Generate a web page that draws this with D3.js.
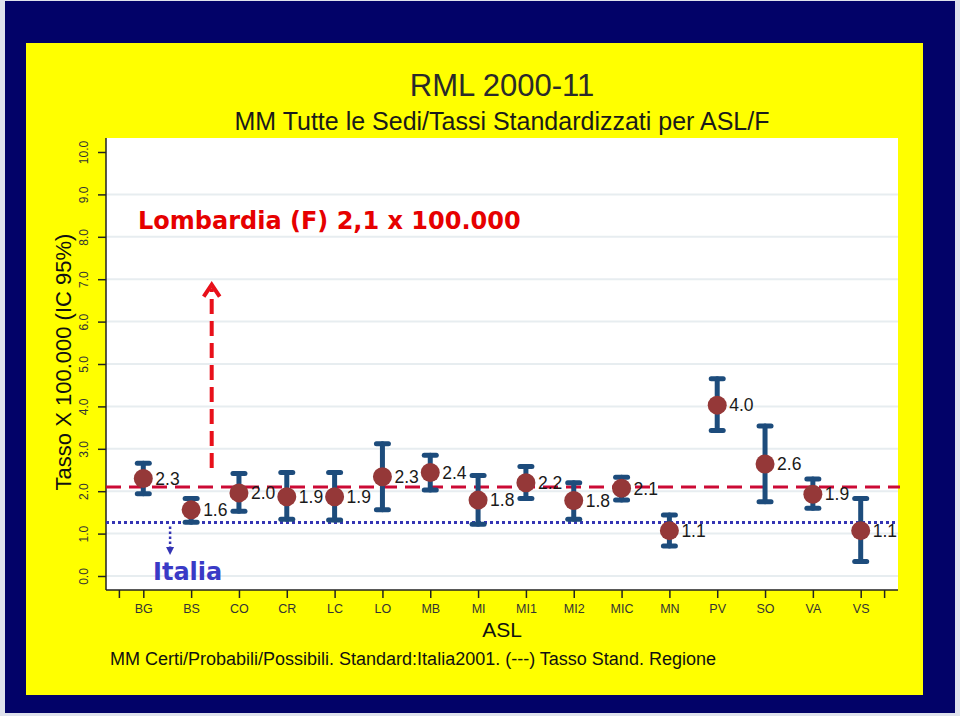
<!DOCTYPE html>
<html>
<head>
<meta charset="utf-8">
<script src="https://cdn.jsdelivr.net/npm/d3@7"></script>
<style>
  html, body { margin: 0; padding: 0; background: #dfe2ec; }
  svg { display: block; }
</style>
</head>
<body>
<svg id="chart" width="960" height="716"></svg>
<script>
// ---- data ----
const categories = ["BG","BS","CO","CR","LC","LO","MB","MI","MI1","MI2","MIC","MN","PV","SO","VA","VS"];
const rates = [2.30,1.56,1.96,1.87,1.87,2.34,2.44,1.79,2.20,1.78,2.07,1.07,4.03,2.64,1.93,1.07];
const lower = [1.94,1.27,1.53,1.34,1.32,1.56,2.03,1.22,1.83,1.34,1.79,0.71,3.43,1.75,1.60,0.34];
const upper = [2.66,1.83,2.42,2.44,2.44,3.12,2.85,2.37,2.58,2.20,2.33,1.44,4.65,3.54,2.29,1.83];
const regionRate = 2.1;
const italyRate = 1.26;
const yTicks = [0,1,2,3,4,5,6,7,8,9,10];
const gridValues = [0,1,2,3,4,5,6,7,8,9];
const title = "RML 2000-11";
const subtitle = "MM Tutte le Sedi/Tassi Standardizzati per ASL/F";
const yTitle = "Tasso X 100.000 (IC 95%)";
const xTitle = "ASL";
const footnote = "MM Certi/Probabili/Possibili. Standard:Italia2001. (---) Tasso Stand. Regione";
const regionNote = "Lombardia (F) 2,1 x 100.000";
const italyNote = "Italia";
// arrow annotation positions (in data units; xPos in category steps from first category)
const regionArrow = {xPos: 1.43, from: 2.55, to: 6.92};
const italyArrow = {xPos: 0.56, from: italyRate, to: 0.52};

const svg = d3.select("#chart");
const plot = {left: 106, right: 898, top: 138, bottom: 590};

// frames
svg.append("rect").attr("x",5).attr("y",1).attr("width",950).attr("height",712).attr("fill","#020268");
svg.append("rect").attr("x",26).attr("y",43).attr("width",897).attr("height",652).attr("fill","#ffff00");
svg.append("rect").attr("x",plot.left).attr("y",plot.top).attr("width",plot.right-plot.left).attr("height",plot.bottom-plot.top).attr("fill","#ffffff");

const x = d3.scalePoint().domain(categories).range([plot.left, plot.right]).padding(0.78);
const step = x.step();
const y = d3.scaleLinear().domain([0,10]).range([576,152]);

// gridlines
svg.append("g").selectAll("line").data(gridValues).join("line")
  .attr("x1",plot.left).attr("x2",plot.right)
  .attr("y1",d=>y(d)).attr("y2",d=>y(d))
  .attr("stroke","#e7edf0").attr("stroke-width",2);

// titles
svg.append("text").attr("x",502).attr("y",96).attr("text-anchor","middle")
  .attr("font-family","Liberation Sans, Arial, sans-serif").attr("font-size",31).attr("fill","#2a2a2a").text(title);
svg.append("text").attr("x",502).attr("y",130).attr("text-anchor","middle")
  .attr("font-family","Liberation Sans, Arial, sans-serif").attr("font-size",25).attr("fill","#1a1a1a").text(subtitle);

// axes
const xAxis = d3.axisBottom(x).tickSize(8).tickPadding(6);
const gx = svg.append("g").attr("transform",`translate(0,${plot.bottom})`).call(xAxis);
gx.select(".domain").attr("stroke","#222").attr("stroke-width",1.5).attr("d",`M${plot.left},0H${plot.right}`);
gx.selectAll(".tick line").attr("stroke","#222").attr("stroke-width",1.5);
gx.selectAll(".tick text").attr("font-family","Liberation Sans, Arial, sans-serif").attr("font-size",12.5).attr("fill","#333");
// extra unlabeled end ticks
const firstX = x(categories[0]) - step/2, lastX = x(categories[categories.length-1]) + step/2;
gx.selectAll(".endtick").data([firstX,lastX]).join("line").attr("class","endtick")
  .attr("x1",d=>d).attr("x2",d=>d).attr("y1",0).attr("y2",8).attr("stroke","#222").attr("stroke-width",1.5);

const yAxis = d3.axisLeft(y).tickValues(yTicks).tickSize(8).tickFormat(d3.format(".1f"));
const gy = svg.append("g").attr("transform",`translate(${plot.left},0)`).call(yAxis);
gy.select(".domain").attr("stroke","#222").attr("stroke-width",1.5).attr("d",`M0,${plot.top}V${plot.bottom}`);
gy.selectAll(".tick line").attr("stroke","#222").attr("stroke-width",1.5);
gy.selectAll(".tick text")
  .attr("font-family","Liberation Sans, Arial, sans-serif").attr("font-size",12).attr("fill","#333")
  .attr("x",null).attr("dy",null)
  .attr("text-anchor","middle")
  .attr("transform","translate(-18,0) rotate(-90)");

svg.append("text").attr("transform",`translate(71,${(plot.top+plot.bottom)/2-2}) rotate(-90)`)
  .attr("text-anchor","middle").attr("font-family","Liberation Sans, Arial, sans-serif")
  .attr("font-size",22).attr("fill","#111").text(yTitle);
svg.append("text").attr("x",(plot.left+plot.right)/2).attr("y",637).attr("text-anchor","middle")
  .attr("font-family","Liberation Sans, Arial, sans-serif").attr("font-size",21).attr("fill","#111").text(xTitle);
svg.append("text").attr("x",110).attr("y",665)
  .attr("font-family","Liberation Sans, Arial, sans-serif").attr("font-size",18).attr("fill","#111").text(footnote);

// reference lines
svg.append("line").attr("x1",plot.left).attr("x2",plot.right+2).attr("y1",y(regionRate)).attr("y2",y(regionRate))
  .attr("stroke","#cc0a35").attr("stroke-width",3).attr("stroke-dasharray","15,8");
svg.append("line").attr("x1",plot.left).attr("x2",plot.right).attr("y1",y(italyRate)).attr("y2",y(italyRate))
  .attr("stroke","#3434b4").attr("stroke-width",3).attr("stroke-dasharray","3,3");

// region arrow
const raX = x(categories[0]) + regionArrow.xPos*step;
svg.append("line").attr("x1",raX).attr("x2",raX).attr("y1",y(regionArrow.from)).attr("y2",y(regionArrow.to)+6)
  .attr("stroke","#e8101a").attr("stroke-width",4).attr("stroke-dasharray","15,7");
svg.append("path").attr("d",`M${raX-8},${y(regionArrow.to)+14}L${raX},${y(regionArrow.to)+2}L${raX+8},${y(regionArrow.to)+14}`)
  .attr("fill","none").attr("stroke","#e8101a").attr("stroke-width",4).attr("stroke-linejoin","miter");

// italy arrow
const iaX = x(categories[0]) + italyArrow.xPos*step;
svg.append("line").attr("x1",iaX).attr("x2",iaX).attr("y1",y(italyArrow.from)+4).attr("y2",y(italyArrow.to)-6)
  .attr("stroke","#3434b4").attr("stroke-width",2.5).attr("stroke-dasharray","2.5,2.5");
svg.append("path").attr("d",`M${iaX-4},${y(italyArrow.to)-7}L${iaX+4},${y(italyArrow.to)-7}L${iaX},${y(italyArrow.to)+1}Z`)
  .attr("fill","#3434b4");

// annotations
svg.append("text").attr("x",138).attr("y",229)
  .attr("font-family","DejaVu Sans, Verdana, sans-serif").attr("font-weight","bold").attr("font-size",24)
  .attr("fill","#e60000").text(regionNote);
svg.append("text").attr("x",153).attr("y",580)
  .attr("font-family","DejaVu Sans, Verdana, sans-serif").attr("font-weight","bold").attr("font-size",24)
  .attr("fill","#3a3ac6").text(italyNote);

// error bars
const data = categories.map((c,i)=>({c, v:rates[i], lo:lower[i], hi:upper[i]}));
const eb = svg.append("g").attr("stroke","#1d4c7c").attr("stroke-width",5).attr("stroke-linecap","round");
eb.selectAll(".v").data(data).join("line")
  .attr("x1",d=>x(d.c)).attr("x2",d=>x(d.c)).attr("y1",d=>y(d.lo)).attr("y2",d=>y(d.hi));
eb.selectAll(".hi").data(data).join("line").attr("class","hi")
  .attr("x1",d=>x(d.c)-6).attr("x2",d=>x(d.c)+6).attr("y1",d=>y(d.hi)).attr("y2",d=>y(d.hi));
eb.selectAll(".lo").data(data).join("line").attr("class","lo")
  .attr("x1",d=>x(d.c)-6).attr("x2",d=>x(d.c)+6).attr("y1",d=>y(d.lo)).attr("y2",d=>y(d.lo));

// points
svg.append("g").selectAll("circle").data(data).join("circle")
  .attr("cx",d=>x(d.c)).attr("cy",d=>y(d.v)).attr("r",9.5).attr("fill","#953838");

// value labels
svg.append("g").selectAll("text").data(data).join("text")
  .attr("x",d=>x(d.c)+12).attr("y",d=>y(d.v)).attr("dy","0.36em")
  .attr("font-family","Liberation Sans, Arial, sans-serif").attr("font-size",17.5).attr("fill","#1a1a1a")
  .text(d=>d3.format(".1f")(d.v));
</script>
</body>
</html>
